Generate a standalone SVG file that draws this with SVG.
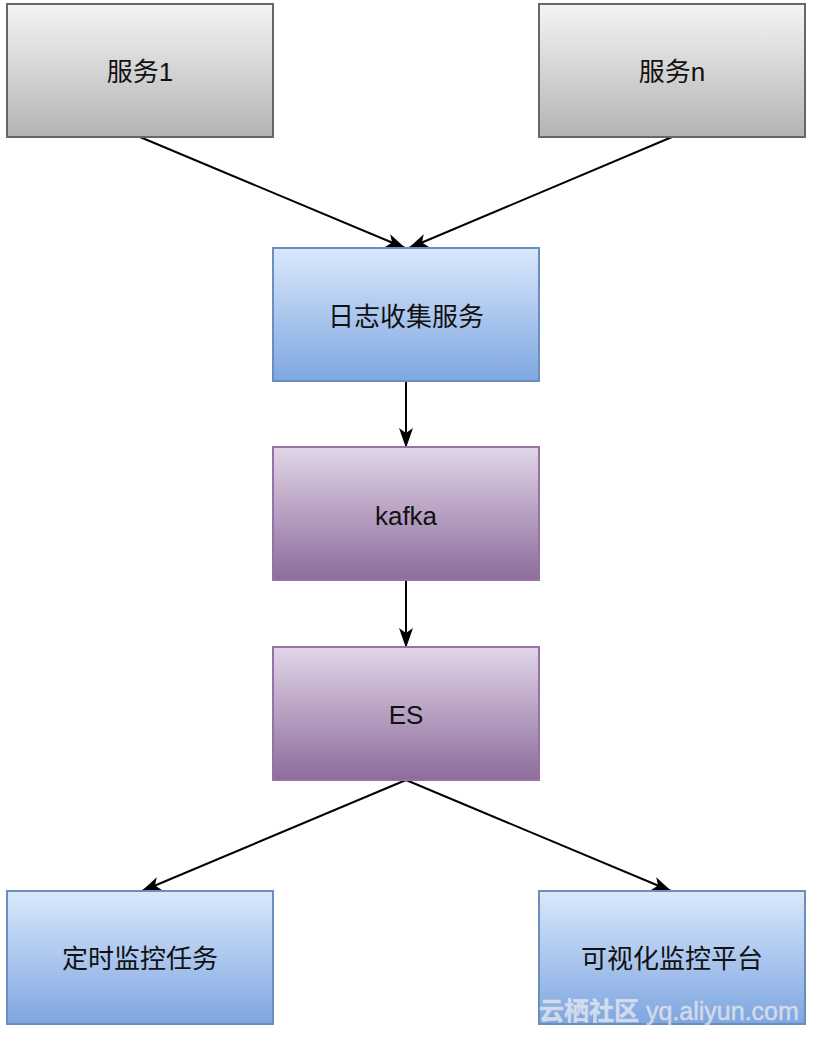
<svg xmlns="http://www.w3.org/2000/svg" width="817" height="1037" viewBox="0 0 817 1037">
<style>
.lbl{font-family:"Liberation Sans","Noto Sans CJK SC",sans-serif;font-size:26px;fill:#111;text-anchor:middle}
.edge{stroke:#000;stroke-width:2;fill:none}
</style>
<defs>
<linearGradient id="gGray" x1="0" y1="0" x2="0" y2="1"><stop offset="0" stop-color="#f5f5f5"/><stop offset="1" stop-color="#b3b3b3"/></linearGradient>
<linearGradient id="gBlue" x1="0" y1="0" x2="0" y2="1"><stop offset="0" stop-color="#dae8fc"/><stop offset="1" stop-color="#7ea6e0"/></linearGradient>
<linearGradient id="gPurple" x1="0" y1="0" x2="0" y2="1"><stop offset="0" stop-color="#e1d5e7"/><stop offset="1" stop-color="#8c6c9c"/></linearGradient>
<marker id="arrL" viewBox="0 0 20 14" refX="19" refY="7" markerWidth="20" markerHeight="14" markerUnits="userSpaceOnUse" orient="auto">
<path d="M0,0 L20,7 L0,14 L5,7 Z" fill="#000"/>
</marker>
</defs>
<rect width="817" height="1037" fill="#ffffff"/>
<g id="connectors">
<path class="edge" d="M140,137 L405,248" marker-end="url(#arrL)"/>
<path class="edge" d="M672,137 L409,248" marker-end="url(#arrL)"/>
<path class="edge" d="M406,381 L406,447" marker-end="url(#arrL)"/>
<path class="edge" d="M406,580 L406,647" marker-end="url(#arrL)"/>
<path class="edge" d="M406,780 L142,891" marker-end="url(#arrL)"/>
<path class="edge" d="M406,780 L671,891" marker-end="url(#arrL)"/>
</g>
<g id="svc1">
<rect x="7" y="4" width="266" height="133" fill="url(#gGray)" stroke="#666666" stroke-width="2"/>
<text class="lbl" x="140" y="81">服务1</text>
</g>
<g id="svcn">
<rect x="539" y="4" width="266" height="133" fill="url(#gGray)" stroke="#666666" stroke-width="2"/>
<text class="lbl" x="672" y="81">服务n</text>
</g>
<g id="logsvc">
<rect x="273" y="248" width="266" height="133" fill="url(#gBlue)" stroke="#6c8ebf" stroke-width="2"/>
<text class="lbl" x="406" y="326">日志收集服务</text>
</g>
<g id="kafka">
<rect x="273" y="447" width="266" height="133" fill="url(#gPurple)" stroke="#9673a6" stroke-width="2"/>
<text class="lbl" x="406" y="525">kafka</text>
</g>
<g id="es">
<rect x="273" y="647" width="266" height="133" fill="url(#gPurple)" stroke="#9673a6" stroke-width="2"/>
<text class="lbl" x="406" y="724">ES</text>
</g>
<g id="timer">
<rect x="7" y="891" width="266" height="133" fill="url(#gBlue)" stroke="#6c8ebf" stroke-width="2"/>
<text class="lbl" x="140" y="968">定时监控任务</text>
</g>
<g id="visual">
<rect x="539" y="891" width="266" height="133" fill="url(#gBlue)" stroke="#6c8ebf" stroke-width="2"/>
<text class="lbl" x="672" y="968">可视化监控平台</text>
</g>
<g id="watermark">
<text x="539" y="1020" font-family="'Liberation Sans','Noto Sans CJK SC',sans-serif" font-size="25" fill="#ffffff" fill-opacity="0.6" stroke="#d8d8d8" stroke-width="0.5"><tspan font-weight="bold">云栖社区</tspan> yq.aliyun.com</text>
</g>
</svg>
